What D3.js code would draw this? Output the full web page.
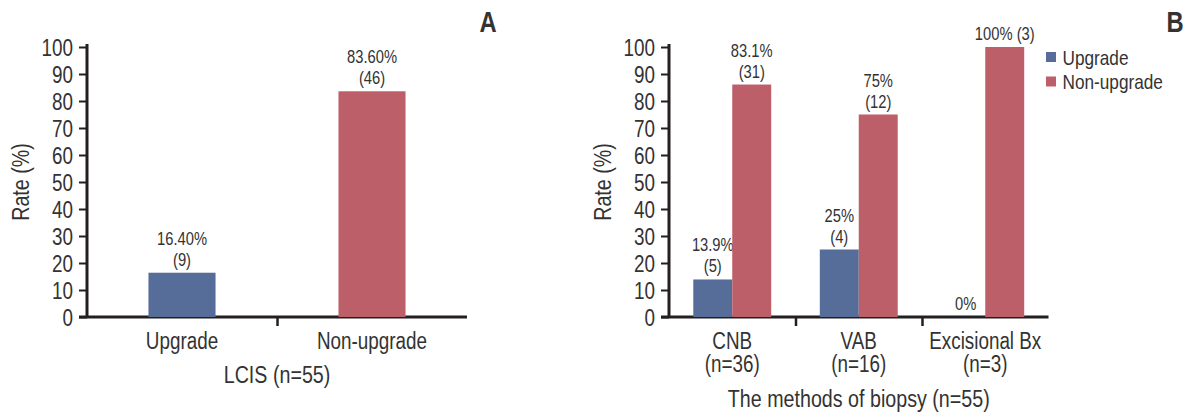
<!DOCTYPE html>
<html>
<head>
<meta charset="utf-8">
<script src="https://cdn.jsdelivr.net/npm/d3@7"></script>
<style>
  html, body { margin: 0; padding: 0; background: #fff; }
  svg { display: block; }
  text { font-family: "Liberation Sans", Arial, Helvetica, sans-serif; fill: #333; }
</style>
</head>
<body>
<svg id="chart" width="1192" height="414"></svg>
<script>
// ---- data ----
const seriesNames = ["Upgrade", "Non-upgrade"];
const yTicks = [0, 10, 20, 30, 40, 50, 60, 70, 80, 90, 100];

// Panel A: LCIS (n=55)
const catsA = ["Upgrade", "Non-upgrade"];
const valuesA = [16.4, 83.6];
const labelsA = [["16.40%", "(9)"], ["83.60%", "(46)"]];
const titleA = "LCIS (n=55)";

// Panel B: methods of biopsy (n=55)
const catsB = [["CNB", "(n=36)"], ["VAB", "(n=16)"], ["Excisional Bx", "(n=3)"]];
const upgradeB = [13.9, 25, 0];
const nonUpgradeB = [86.1, 75, 100];
const upgradeLabelsB = [["13.9%", "(5)"], ["25%", "(4)"], ["0%"]];
const nonUpgradeLabelsB = [["83.1%", "(31)"], ["75%", "(12)"], ["100% (3)"]];
const titleB = "The methods of biopsy (n=55)";

const colors = ["#566d9a", "#bd5f69"];
const axisColor = "#231f20";
const SX = 0.82; // condensed look

const svg = d3.select("#chart");

// text helper: condensed text positioned at (x,y)
function ctext(parent, x, y, str, size, opts = {}) {
  const rot = opts.rotate ? ` rotate(${opts.rotate})` : "";
  const t = parent.append("text")
    .attr("transform", `translate(${x},${y})${rot} scale(${SX},1)`)
    .attr("text-anchor", opts.anchor || "middle")
    .style("font-size", size + "px")
    .attr("fill", opts.fill || "#333");
  if (opts.weight) t.style("font-weight", opts.weight);
  if (opts.dy) t.attr("dy", opts.dy);
  t.text(str);
  return t;
}

function drawPanel(opts) {
  const g = svg.append("g");
  const y = d3.scaleLinear().domain([0, 100]).range([317, 47]);
  const x = d3.scaleBand().domain(opts.cats.map((d, i) => i)).range([opts.x0, opts.x1]).padding(0);
  const bounds = d3.scaleLinear().domain([0, opts.cats.length]).range([opts.x0, opts.x1]);

  // y axis
  const ya = g.append("g").attr("transform", `translate(${opts.x0},0)`)
    .call(d3.axisLeft(y).tickValues(yTicks).tickSize(8).tickPadding(6));
  ya.select(".domain").remove();
  ya.selectAll(".tick line").attr("stroke", axisColor).attr("stroke-width", 2);
  ya.selectAll(".tick text")
    .style("font-size", "23px").attr("fill", "#333")
    .attr("x", -14 / SX).attr("dy", "0.36em")
    .attr("transform", `scale(${SX},1)`);
  g.append("line").attr("x1", opts.x0).attr("x2", opts.x0).attr("y1", 44).attr("y2", y(0) + 1)
    .attr("stroke", axisColor).attr("stroke-width", 3);

  // x axis boundary ticks (between categories)
  const inner = d3.range(1, opts.cats.length);
  const xb = g.append("g").attr("transform", `translate(0,${y(0)})`)
    .call(d3.axisBottom(bounds).tickValues(inner).tickSize(9).tickFormat(""));
  xb.select(".domain").remove();
  xb.selectAll(".tick line").attr("stroke", axisColor).attr("stroke-width", 2.5);
  g.append("line").attr("x1", opts.x0 - 8).attr("x2", opts.x1).attr("y1", y(0)).attr("y2", y(0))
    .attr("stroke", axisColor).attr("stroke-width", 3);

  // x category labels
  const xl = g.append("g").attr("transform", `translate(0,${y(0)})`)
    .call(d3.axisBottom(x).tickSize(0).tickFormat(""));
  xl.select(".domain").remove();
  xl.selectAll(".tick").each(function(d) {
    const lines = [].concat(opts.cats[d]);
    const tk = d3.select(this);
    lines.forEach((s, k) => ctext(tk, 0, 32 + k * 23, s, 23));
  });

  // bars
  const series = opts.series;
  const nS = series.length;
  const bw = x.bandwidth() * opts.barFrac;
  series.forEach((vals, si) => {
    const xpos = (i) => opts.single
      ? x(i) + x.bandwidth() / 2 - bw / 2
      : x(i) + x.bandwidth() / 2 + (si - nS / 2) * bw;
    g.selectAll(null).data(vals.map((v, i) => ({v, i}))).enter().append("rect")
      .attr("x", d => xpos(d.i))
      .attr("y", d => y(d.v))
      .attr("width", bw)
      .attr("height", d => y(0) - y(d.v))
      .attr("fill", d => opts.single ? colors[d.i] : colors[si]);
    // value labels
    const labs = opts.labels[si];
    vals.forEach((v, i) => {
      const lines = labs[i];
      const cx = xpos(i) + bw / 2;
      const top = y(v);
      lines.forEach((s, k) => {
        ctext(g, cx, top - 7 - (lines.length - 1 - k) * 21, s, 18, {fill: "#262626"});
      });
    });
  });

  // y title
  ctext(g, opts.x0 - 58, 182, "Rate (%)", 24, {rotate: -90});

  // x title
  ctext(g, (opts.x0 + opts.x1) / 2, opts.titleY, opts.title, 24, {fill: "#222"});

  // panel letter
  ctext(svg, opts.letterX, 32, opts.letter, 29, {weight: "bold", fill: "#1a1a1a"});
}

drawPanel({
  cats: catsA, x0: 87, x1: 467, series: [valuesA], labels: [labelsA], single: true,
  barFrac: 0.353, title: titleA, titleY: 383, letter: "A", letterX: 488
});

drawPanel({
  cats: catsB, x0: 669, x1: 1048.5, series: [upgradeB, nonUpgradeB],
  labels: [upgradeLabelsB, nonUpgradeLabelsB], single: false,
  barFrac: 0.308, title: titleB, titleY: 407, letter: "B", letterX: 1175
});

// legend
const lg = svg.append("g").attr("transform", "translate(1046,52)");
seriesNames.forEach((n, i) => {
  lg.append("rect").attr("x", 0).attr("y", i * 24.5).attr("width", 10).attr("height", 10).attr("fill", colors[i]);
  ctext(lg, 16.5, i * 24.5 + 5, n, 21, {anchor: "start", dy: "0.36em"});
});
</script>
</body>
</html>
